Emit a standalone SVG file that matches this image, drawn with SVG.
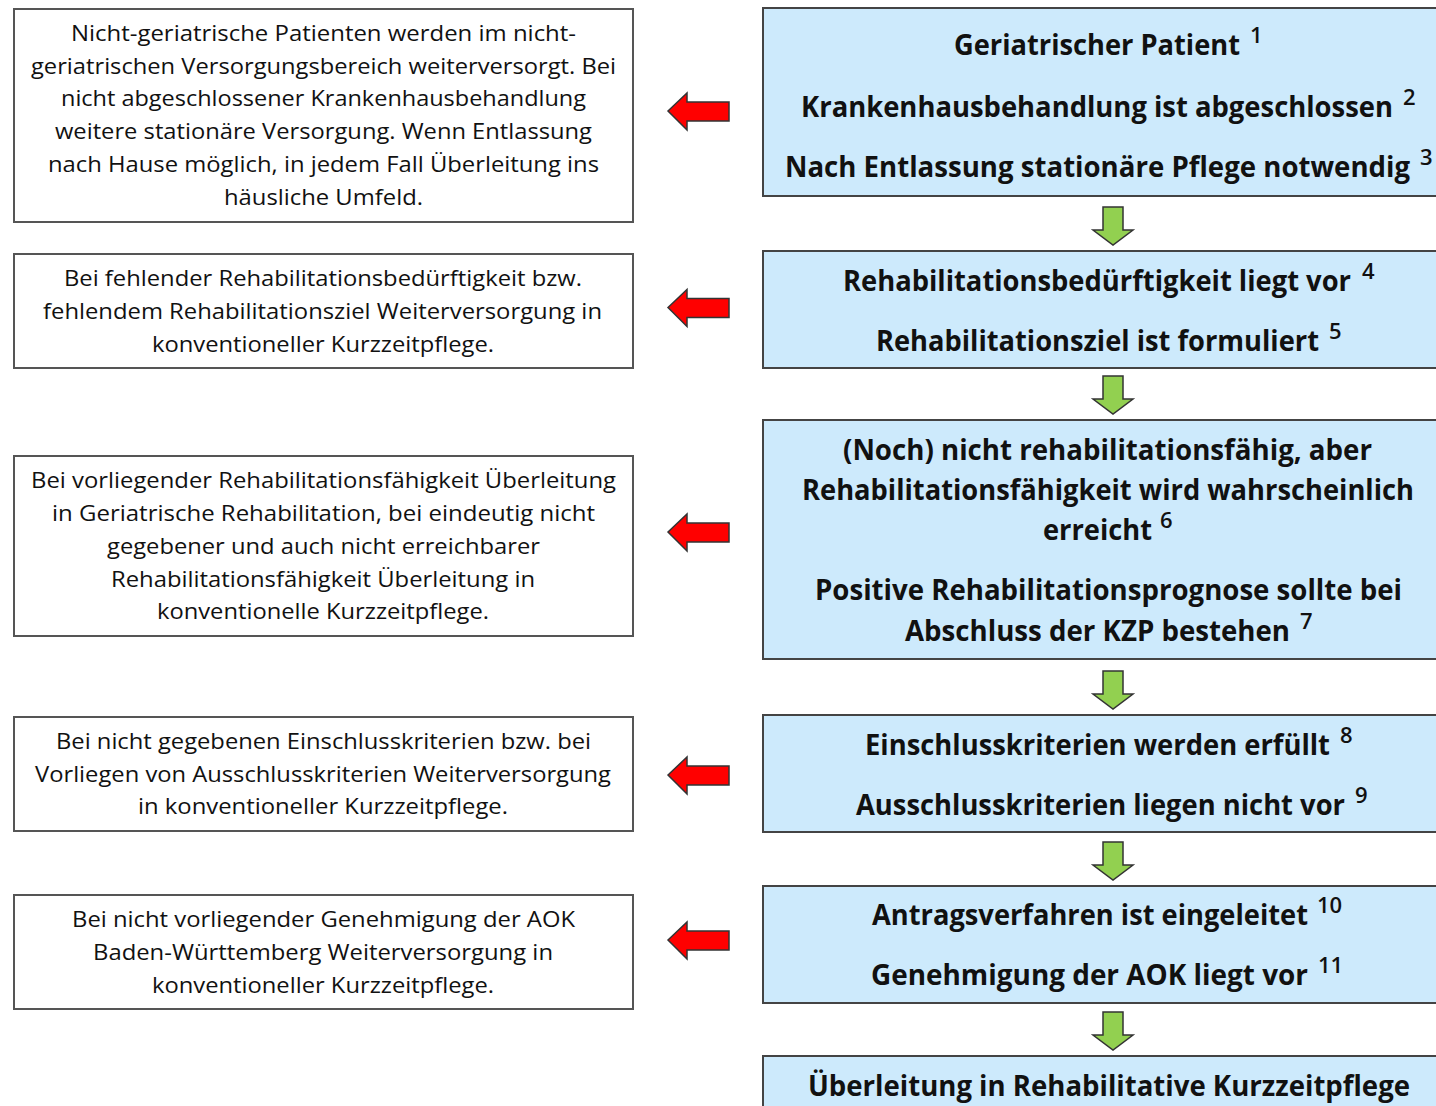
<svg xmlns="http://www.w3.org/2000/svg" width="1436" height="1106" viewBox="0 0 1436 1106">
<style>
.lbox{fill:#ffffff;stroke:#555555;stroke-width:2}
.rbox{fill:#cdeafc;stroke:#444444;stroke-width:2}
.lt{font-family:"Open Sans","Liberation Sans",sans-serif;font-size:21px;fill:#111111}
.rt{font-family:"Open Sans","Liberation Sans",sans-serif;font-size:28px;font-weight:bold;fill:#111111}
.sup{font-size:22px;font-weight:600}
.red{fill:#ff0000;stroke:#333333;stroke-width:1.5;stroke-linejoin:miter}
.green{fill:#92d050;stroke:#333333;stroke-width:1.5;stroke-linejoin:miter}
</style>
<defs>
<path id="redArrow" d="M0,0 L19,-18 L19,-9 L61,-9 L61,10 L19,10 L19,19 Z"/>
<path id="greenArrow" d="M-10,0 L10,0 L10,23 L20,23 L0,38 L-20,23 L-10,23 Z"/>
</defs>
<rect width="1436" height="1106" fill="#ffffff"/>

<g id="n1">
<rect class="lbox" x="14" y="9" width="619" height="213"/>
<text class="lt" x="71" y="41" textLength="505" lengthAdjust="spacingAndGlyphs">Nicht-geriatrische Patienten werden im nicht-</text>
<text class="lt" x="31" y="74" textLength="585" lengthAdjust="spacingAndGlyphs">geriatrischen Versorgungsbereich weiterversorgt. Bei</text>
<text class="lt" x="61" y="106" textLength="525" lengthAdjust="spacingAndGlyphs">nicht abgeschlossener Krankenhausbehandlung</text>
<text class="lt" x="55" y="139" textLength="537" lengthAdjust="spacingAndGlyphs">weitere stationäre Versorgung. Wenn Entlassung</text>
<text class="lt" x="48" y="172" textLength="551" lengthAdjust="spacingAndGlyphs">nach Hause möglich, in jedem Fall Überleitung ins</text>
<text class="lt" x="224" y="205" textLength="199" lengthAdjust="spacingAndGlyphs">häusliche Umfeld.</text>
</g>

<g id="n2">
<rect class="lbox" x="14" y="254" width="619" height="114"/>
<text class="lt" x="64" y="286" textLength="518" lengthAdjust="spacingAndGlyphs">Bei fehlender Rehabilitationsbedürftigkeit bzw.</text>
<text class="lt" x="43" y="319" textLength="559" lengthAdjust="spacingAndGlyphs">fehlendem Rehabilitationsziel Weiterversorgung in</text>
<text class="lt" x="152" y="352" textLength="342" lengthAdjust="spacingAndGlyphs">konventioneller Kurzzeitpflege.</text>
</g>

<g id="n3">
<rect class="lbox" x="14" y="456" width="619" height="180"/>
<text class="lt" x="31" y="488" textLength="585" lengthAdjust="spacingAndGlyphs">Bei vorliegender Rehabilitationsfähigkeit Überleitung</text>
<text class="lt" x="52" y="521" textLength="543" lengthAdjust="spacingAndGlyphs">in Geriatrische Rehabilitation, bei eindeutig nicht</text>
<text class="lt" x="107" y="554" textLength="433" lengthAdjust="spacingAndGlyphs">gegebener und auch nicht erreichbarer</text>
<text class="lt" x="111" y="587" textLength="424" lengthAdjust="spacingAndGlyphs">Rehabilitationsfähigkeit Überleitung in</text>
<text class="lt" x="157" y="619" textLength="332" lengthAdjust="spacingAndGlyphs">konventionelle Kurzzeitpflege.</text>
</g>

<g id="n4">
<rect class="lbox" x="14" y="717" width="619" height="114"/>
<text class="lt" x="56" y="749" textLength="535" lengthAdjust="spacingAndGlyphs">Bei nicht gegebenen Einschlusskriterien bzw. bei</text>
<text class="lt" x="35" y="782" textLength="576" lengthAdjust="spacingAndGlyphs">Vorliegen von Ausschlusskriterien Weiterversorgung</text>
<text class="lt" x="138" y="814" textLength="370" lengthAdjust="spacingAndGlyphs">in konventioneller Kurzzeitpflege.</text>
</g>

<g id="n5">
<rect class="lbox" x="14" y="895" width="619" height="114"/>
<text class="lt" x="72" y="927" textLength="503" lengthAdjust="spacingAndGlyphs">Bei nicht vorliegender Genehmigung der AOK</text>
<text class="lt" x="93" y="960" textLength="460" lengthAdjust="spacingAndGlyphs">Baden-Württemberg Weiterversorgung in</text>
<text class="lt" x="152" y="993" textLength="342" lengthAdjust="spacingAndGlyphs">konventioneller Kurzzeitpflege.</text>
</g>

<g id="s1">
<rect class="rbox" x="763" y="8" width="700" height="188"/>
<text class="rt"><tspan x="954" y="55" textLength="286" lengthAdjust="spacingAndGlyphs">Geriatrischer Patient</tspan><tspan class="sup" x="1250" y="43">1</tspan></text>
<text class="rt"><tspan x="801" y="117" textLength="592" lengthAdjust="spacingAndGlyphs">Krankenhausbehandlung ist abgeschlossen</tspan><tspan class="sup" x="1403" y="105">2</tspan></text>
<text class="rt"><tspan x="785" y="177" textLength="625" lengthAdjust="spacingAndGlyphs">Nach Entlassung stationäre Pflege notwendig</tspan><tspan class="sup" x="1420" y="165">3</tspan></text>
</g>

<g id="s2">
<rect class="rbox" x="763" y="251" width="700" height="117"/>
<text class="rt"><tspan x="843" y="291" textLength="508" lengthAdjust="spacingAndGlyphs">Rehabilitationsbedürftigkeit liegt vor</tspan><tspan class="sup" x="1362" y="279">4</tspan></text>
<text class="rt"><tspan x="876" y="351" textLength="443" lengthAdjust="spacingAndGlyphs">Rehabilitationsziel ist formuliert</tspan><tspan class="sup" x="1329" y="339">5</tspan></text>
</g>

<g id="s3">
<rect class="rbox" x="763" y="420" width="700" height="239"/>
<text class="rt"><tspan x="843" y="460" textLength="529" lengthAdjust="spacingAndGlyphs">(Noch) nicht rehabilitationsfähig, aber</tspan><tspan x="802" y="500" textLength="612" lengthAdjust="spacingAndGlyphs">Rehabilitationsfähigkeit wird wahrscheinlich</tspan><tspan x="1043" y="540" textLength="109" lengthAdjust="spacingAndGlyphs">erreicht</tspan><tspan class="sup" x="1160" y="528">6</tspan></text>
<text class="rt"><tspan x="815" y="600" textLength="587" lengthAdjust="spacingAndGlyphs">Positive Rehabilitationsprognose sollte bei</tspan><tspan x="905" y="641" textLength="385" lengthAdjust="spacingAndGlyphs">Abschluss der KZP bestehen</tspan><tspan class="sup" x="1300" y="629">7</tspan></text>
</g>

<g id="s4">
<rect class="rbox" x="763" y="715" width="700" height="117"/>
<text class="rt"><tspan x="865" y="755" textLength="465" lengthAdjust="spacingAndGlyphs">Einschlusskriterien werden erfüllt</tspan><tspan class="sup" x="1340" y="743">8</tspan></text>
<text class="rt"><tspan x="856" y="815" textLength="489" lengthAdjust="spacingAndGlyphs">Ausschlusskriterien liegen nicht vor</tspan><tspan class="sup" x="1355" y="803">9</tspan></text>
</g>

<g id="s5">
<rect class="rbox" x="763" y="886" width="700" height="117"/>
<text class="rt"><tspan x="872" y="925" textLength="436" lengthAdjust="spacingAndGlyphs">Antragsverfahren ist eingeleitet</tspan><tspan class="sup" x="1317" y="913">10</tspan></text>
<text class="rt"><tspan x="871" y="985" textLength="437" lengthAdjust="spacingAndGlyphs">Genehmigung der AOK liegt vor</tspan><tspan class="sup" x="1318" y="973">11</tspan></text>
</g>

<g id="s6">
<rect class="rbox" x="763" y="1056" width="700" height="80"/>
<text class="rt" x="808" y="1096" textLength="602" lengthAdjust="spacingAndGlyphs">Überleitung in Rehabilitative Kurzzeitpflege</text>
</g>

<g id="connectors">
<use href="#redArrow" class="red" x="668" y="111"/>
<use href="#redArrow" class="red" x="668" y="307.5"/>
<use href="#redArrow" class="red" x="668" y="532"/>
<use href="#redArrow" class="red" x="668" y="775"/>
<use href="#redArrow" class="red" x="668" y="940"/>
<use href="#greenArrow" class="green" x="1113" y="207"/>
<use href="#greenArrow" class="green" x="1113" y="376"/>
<use href="#greenArrow" class="green" x="1113" y="671"/>
<use href="#greenArrow" class="green" x="1113" y="842"/>
<use href="#greenArrow" class="green" x="1113" y="1012"/>
</g>
</svg>
